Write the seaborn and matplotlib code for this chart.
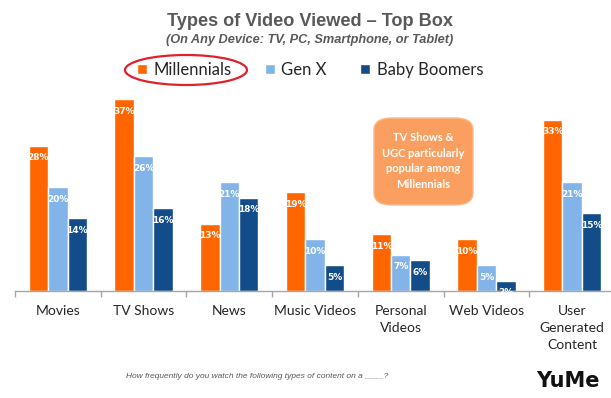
import pandas as pd
import seaborn as sns
import matplotlib.pyplot as plt
from matplotlib.patches import Ellipse, FancyBboxPatch, Patch

# Chart data
categories = ['Movies', 'TV Shows', 'News', 'Music Videos', 'Personal\nVideos',
              'Web Videos', 'User\nGenerated\nContent']
groups = ['Millennials', 'Gen X', 'Baby Boomers']
millennials = [28, 37, 13, 19, 11, 10, 33]
gen_x = [20, 26, 21, 10, 7, 5, 21]
boomers = [14, 16, 18, 5, 6, 2, 15]
colors = ['#FF6600', '#82B4EA', '#124C89']

df = pd.DataFrame({
    'Category': categories * 3,
    'Group': [groups[0]] * 7 + [groups[1]] * 7 + [groups[2]] * 7,
    'Value': millennials + gen_x + boomers,
})

sns.set_style('white')
plt.rcParams['font.family'] = ['Lato', 'DejaVu Sans']

fig = plt.figure(figsize=(6.11, 3.98), dpi=100)
ax = fig.add_axes([15 / 611, 107 / 398, 600 / 611, 207.6 / 398])

sns.barplot(data=df, x='Category', y='Value', hue='Group', palette=colors,
            width=0.68, gap=0, ax=ax, legend=False, saturation=1)

for cont in ax.containers:
    ax.bar_label(cont, labels=[f'{int(v)}%' for v in cont.datavalues],
                 padding=-12, color='white', fontsize=6.5, fontweight='bold',
                 family='DejaVu Sans')

ax.set_xlim(-0.5, 6.5)
ax.set_ylim(0, 40)
ax.set_xlabel('')
ax.set_ylabel('')
ax.set_yticks([])
for s in ['top', 'right', 'left']:
    ax.spines[s].set_visible(False)
ax.spines['bottom'].set_color('#A6A6A6')
ax.spines['bottom'].set_linewidth(1)
ax.set_xticks(range(7))
ax.set_xticklabels(categories, fontsize=10, color='#262626', va='top',
                   linespacing=1.5)
ax.tick_params(axis='x', which='major', length=0, pad=10)
ax.set_xticks([i - 0.5 for i in range(8)], minor=True)
ax.tick_params(axis='x', which='minor', length=4, color='#A6A6A6', width=1,
               direction='out', bottom=True)

# Titles
fig.text(310 / 611, 1 - 22 / 398, 'Types of Video Viewed \u2013 Top Box',
         ha='center', va='center', fontsize=13.1, fontweight='bold',
         color='#595959', family='Liberation Sans')
fig.text(310 / 611, 1 - 40 / 398,
         '(On Any Device: TV, PC, Smartphone, or Tablet)',
         ha='center', va='center', fontsize=9.2, fontweight='bold',
         style='italic', color='#595959', family='Liberation Sans')

# Legend
handles = [Patch(facecolor=c, label=g) for c, g in zip(colors, groups)]
fig.legend(handles=handles, loc='center', ncol=3,
           bbox_to_anchor=(310 / 611, 1 - 70 / 398), frameon=False,
           fontsize=12, handlelength=0.6, handleheight=0.6,
           handletextpad=0.4, columnspacing=2.0)

ell = Ellipse((186 / 611, 1 - 70 / 398), 122 / 611, 30 / 398,
              transform=fig.transFigure, fill=False, edgecolor='#E0202A',
              linewidth=1.6)
fig.add_artist(ell)

# Callout box
box = FancyBboxPatch((374 / 611, 1 - 205 / 398), 99 / 611, 87 / 398,
                     boxstyle='round,pad=0,rounding_size=0.03',
                     transform=fig.transFigure, facecolor='#FA9F5F',
                     edgecolor='#F7B98C', linewidth=1)
fig.add_artist(box)
fig.text(423 / 611, 1 - 161 / 398,
         'TV Shows &\nUGC particularly\npopular among\nMillennials',
         ha='center', va='center', fontsize=8, fontweight='bold',
         color='white', linespacing=1.5)

# Footer
fig.text(257 / 611, 1 - 376 / 398,
         'How frequently do you watch the following types of content on a ____?',
         ha='center', va='center', fontsize=6, style='italic',
         color='#595959', family='Liberation Sans')
fig.text(568 / 611, 1 - 381 / 398, 'YuMe', ha='center', va='center',
         fontsize=15, fontweight='heavy', color='#111111',
         family='DejaVu Sans')

fig.savefig('out.png', dpi=100)
